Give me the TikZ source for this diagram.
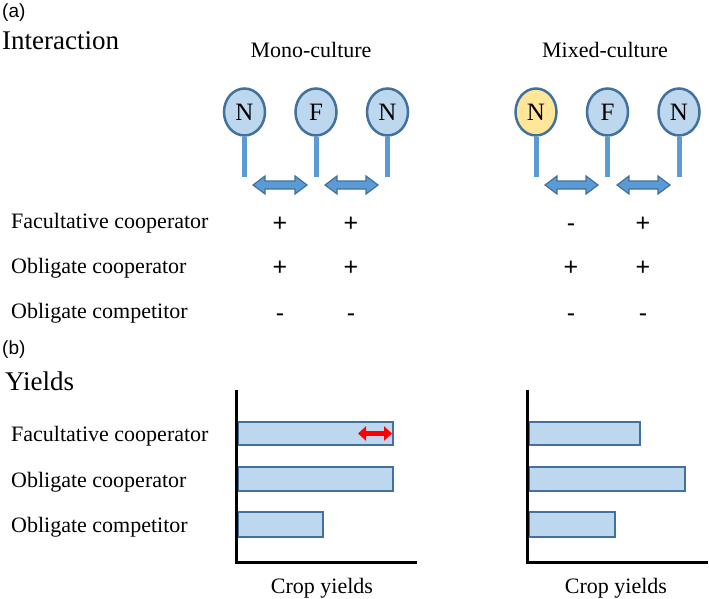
\documentclass[tikz,border=0pt]{standalone}
\usepackage{fontspec}
\setmainfont{Liberation Serif}
\newfontfamily\arialfont{Liberation Sans}
\usetikzlibrary{shapes.geometric, arrows.meta}
\definecolor{paleblue}{HTML}{BDD7EE}
\definecolor{edgeblue}{HTML}{41719C}
\definecolor{midblue}{HTML}{5B9BD5}
\definecolor{paleyellow}{HTML}{FFE699}
\tikzstyle{cell} = [ellipse, minimum width = 41pt, minimum height = 47pt, inner sep = 0pt, draw = edgeblue, line width = 2.5pt, fill = paleblue, font = \fontsize{25}{28}\selectfont]
\tikzstyle{stem} = [midblue, line width = 5pt]
\tikzstyle{blockarr} = [fill = midblue, draw = edgeblue, line width = 1.2pt, line join = miter]
\tikzstyle{rowtext} = [anchor = base west, inner sep = 0pt, font = \fontsize{22}{26}\selectfont]
\tikzstyle{title} = [anchor = base, inner sep = 0pt, font = \fontsize{22}{26}\selectfont]
\tikzstyle{heading} = [anchor = base west, inner sep = 0pt, font = \fontsize{27}{30}\selectfont]
\tikzstyle{tag} = [anchor = north west, inner sep = 0pt, font = \arialfont\fontsize{19}{22}\selectfont]
\tikzstyle{sign} = [anchor = base, inner sep = 0pt, font = \arialfont\fontsize{25}{28}\selectfont]
\tikzstyle{bar} = [draw = edgeblue, line width = 2.5pt, fill = paleblue]
\tikzstyle{axisline} = [black, line width = 3pt, line join = miter]
\tikzstyle{redarrow} = [red, line width = 5pt, {Triangle[length = 8pt, width = 14pt]}-{Triangle[length = 8pt, width = 14pt]}]
% double block arrow between two stems: left x, right x, y
\newcommand{\twoway}[3]{%
  \draw[blockarr] (#1,#3) -- ({#1+12},{#3-9}) -- ({#1+12},{#3-4}) -- ({#2-12},{#3-4}) -- ({#2-12},{#3-9}) -- (#2,#3)
    -- ({#2-12},{#3+9}) -- ({#2-12},{#3+4}) -- ({#1+12},{#3+4}) -- ({#1+12},{#3+9}) -- cycle;}

\begin{document}
\begin{tikzpicture}[x = 1pt, y = -1pt]
    \useasboundingbox (0,0) rectangle (709,599);

    % (a) interaction
    \node(tagA)[tag] at (2,4) {(a)};
    \node(interact)[heading] at (2,50) {Interaction};
    \node(mono)[title] at (311,58) {Mono-culture};
    \node(mixed)[title] at (605,58) {Mixed-culture};

    \node(monoN1)[cell] at (244.5,112) {N};
    \node(monoF)[cell] at (316,112) {F};
    \node(monoN2)[cell] at (387.5,112) {N};
    \node(mixN1)[cell, fill = paleyellow] at (536,112) {N};
    \node(mixF)[cell] at (607.5,112) {F};
    \node(mixN2)[cell] at (679,112) {N};

    \draw[stem](monoN1.south)--++(0,40);
    \draw[stem](monoF.south)--++(0,40);
    \draw[stem](monoN2.south)--++(0,40);
    \draw[stem](mixN1.south)--++(0,40);
    \draw[stem](mixF.south)--++(0,40);
    \draw[stem](mixN2.south)--++(0,40);

    \twoway{253}{307}{185}
    \twoway{325}{378}{185}
    \twoway{545}{598}{185}
    \twoway{617}{670}{185}

    \node(facA)[rowtext] at (11,228) {Facultative cooperator};
    \node(coopA)[rowtext] at (11,273) {Obligate cooperator};
    \node(compA)[rowtext] at (11,318) {Obligate competitor};

    \node(s11)[sign] at (280,231) {+};
    \node(s12)[sign] at (351,231) {+};
    \node(s13)[sign] at (571,231) {-};
    \node(s14)[sign] at (643,231) {+};
    \node(s21)[sign] at (280,275) {+};
    \node(s22)[sign] at (351,275) {+};
    \node(s23)[sign] at (571,275) {+};
    \node(s24)[sign] at (643,275) {+};
    \node(s31)[sign] at (280,321) {-};
    \node(s32)[sign] at (351,321) {-};
    \node(s33)[sign] at (571,321) {-};
    \node(s34)[sign] at (643,321) {-};

    % (b) yields
    \node(tagB)[tag] at (2,341) {(b)};
    \node(yields)[heading] at (5,390) {Yields};

    \node(facB)[rowtext] at (11,441) {Facultative cooperator};
    \node(coopB)[rowtext] at (11,487) {Obligate cooperator};
    \node(compB)[rowtext] at (11,532) {Obligate competitor};

    \draw[bar](238,422) rectangle (393,445);
    \draw[bar](238,467) rectangle (393,491);
    \draw[bar](238,512) rectangle (323,537);
    \draw[bar](529,422) rectangle (640,445);
    \draw[bar](529,467) rectangle (685,491);
    \draw[bar](529,512) rectangle (615,537);

    \draw[axisline](236,390)--(236,562)--(417,562);
    \draw[axisline](527,390)--(527,562)--(708,562);

    \draw[redarrow](358,433.5)--(392,433.5);

    \node(cropL)[title] at (322,593) {Crop yields};
    \node(cropR)[title] at (616,593) {Crop yields};
\end{tikzpicture}
\end{document}
